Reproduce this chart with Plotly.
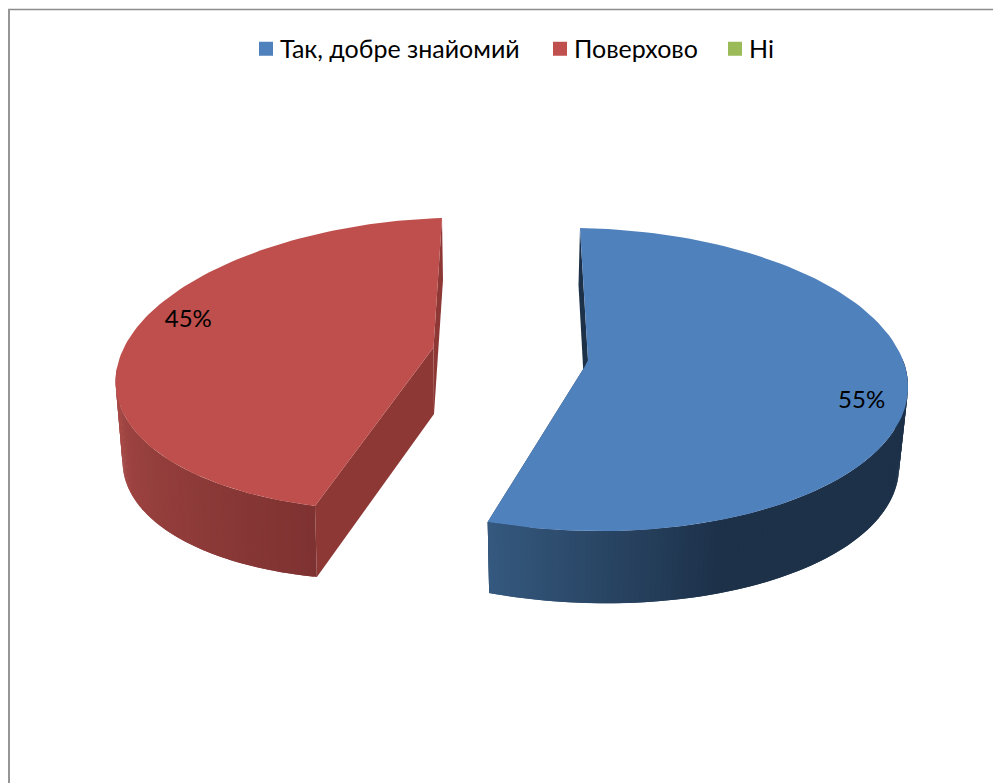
import math
import plotly.graph_objects as go

# --- data ---
categories = ["Так, добре знайомий", "Поверхово", "Ні"]
values = [55, 45, 0]
labels = ["55%", "45%", None]
legend_colors = ["#4F81BD", "#C0504D", "#9BBB59"]

# --- projected pie geometry (pixels of the 1001x783 canvas) ---
TOP = [
    dict(cx=584, cy=379.5, a=324, b=151.5, k=-4, m=5.5),
    dict(cx=426, cy=364, a=310, b=146, k=16, m=-10),
]
BOT = [
    dict(cx=583, cy=456, a=316, b=147, k=-4, m=9),
    dict(cx=427, cy=437, a=304, b=142, k=17, m=-16),
]
APEX_TOP = [(584.5, 367), (433.5, 347.5)]
APEX_NOTCH = [(588, 360), (433.5, 347.5)]
APEX_BOT = [(587, 438), (434, 414)]
BACK_MID = [(578.5, 285), (443, 280)]
LABEL_XY_OFFSET = [(-43, -7), (66, -30)]
FACE = ["#4F81BD", "#BE4F4C"]
WALL_FLAT = ["#1D3149", "#8E3836"]
WALL_A = ["#35597F", "#7E3231"]
WALL_B = ["#1D3149", "#A84A47"]
LEGEND_X = [240, 534, 709]
LEGEND_Y = 48
FONT = "Lato, Carlito, Calibri, sans-serif"


def pt(g, deg):
    t = math.radians(deg)
    return (g["cx"] + g["a"] * math.sin(t) + g["k"] * math.cos(t),
            g["cy"] - g["b"] * math.cos(t) + g["m"] * math.sin(t))


def mix(c1, c2, f):
    f = max(0.0, min(1.0, f))
    v = [round(int(c1[i:i+2], 16) * (1 - f) + int(c2[i:i+2], 16) * f) for i in (1, 3, 5)]
    return "#%02X%02X%02X" % tuple(v)


def poly(xs, ys, color):
    return go.Scatter(x=list(xs) + [xs[0]], y=list(ys) + [ys[0]], mode="lines", fill="toself",
                      fillcolor=color, line=dict(color=color, width=0), showlegend=False,
                      hoverinfo="skip")


fig = go.Figure()
total = sum(values)
start = 0.0
for i, v in enumerate(values):
    span = 360.0 * v / total
    if v == 0:
        continue
    end = start + span
    g, h = TOP[i], BOT[i]
    p0 = pt(g, start if i == 0 else end)
    fig.add_trace(poly([p0[0], BACK_MID[i][0], APEX_BOT[i][0], APEX_NOTCH[i][0]],
                       [p0[1], BACK_MID[i][1], APEX_BOT[i][1], APEX_NOTCH[i][1]], WALL_FLAT[i]))
    cut = end if i == 0 else start
    q0, q1 = pt(g, cut), pt(h, cut)
    fig.add_trace(poly([APEX_TOP[i][0], q0[0], q1[0], APEX_BOT[i][0]],
                       [APEX_TOP[i][1], q0[1], q1[1], APEX_BOT[i][1]], WALL_FLAT[i]))
    # curved outer wall: strips overlap so no seams show
    lo, hi = (80.0, end) if i == 0 else (start, 272.0)
    n = 120
    step = (hi - lo) / n
    for s in range(n):
        t0 = lo + step * s
        t1 = min(hi, t0 + 2 * step)
        a0, a1, b1, b0 = pt(g, t0), pt(g, t1), pt(h, t1), pt(h, t0)
        if i == 0:
            c = mix(WALL_A[0], WALL_B[0], (end - t0) / 43.0)
        else:
            c = mix(WALL_A[1], WALL_B[1], (t0 - start) / (hi - lo))
        fig.add_trace(poly([a0[0], a1[0], b1[0], b0[0]], [a0[1], a1[1], b1[1], b0[1]], c))
    arc = [pt(g, start + span * s / 120) for s in range(121)]
    fig.add_trace(poly([APEX_TOP[i][0], APEX_NOTCH[i][0]] + [p[0] for p in arc],
                       [APEX_TOP[i][1], APEX_NOTCH[i][1]] + [p[1] for p in arc], FACE[i]))
    mid = pt(g, (start + end) / 2)
    fig.add_trace(go.Scatter(x=[mid[0] + LABEL_XY_OFFSET[i][0]], y=[mid[1] + LABEL_XY_OFFSET[i][1]],
                             mode="text", text=[labels[i]], showlegend=False, hoverinfo="skip",
                             textfont=dict(family=FONT, size=24, color="#000000")))
    start = end

for i, name in enumerate(categories):
    lg = "legend" if i == 0 else f"legend{i+1}"
    fig.add_trace(go.Scatter(x=[None], y=[None], mode="markers", name=name, legend=lg,
                             marker=dict(symbol="square", size=14, color=legend_colors[i])))

legend_style = dict(orientation="h", xanchor="left", yanchor="middle", yref="paper", xref="paper",
                    bgcolor="rgba(0,0,0,0)", itemwidth=30,
                    font=dict(family=FONT, size=25, color="#000000"))
layout_legends = {}
for i in range(len(categories)):
    key = "legend" if i == 0 else f"legend{i+1}"
    layout_legends[key] = dict(x=LEGEND_X[i] / 1001, y=1 - LEGEND_Y / 783, **legend_style)

fig.update_layout(
    width=1001, height=783, autosize=False,
    margin=dict(l=0, r=0, t=0, b=0),
    paper_bgcolor="#FFFFFF", plot_bgcolor="#FFFFFF",
    xaxis=dict(range=[0, 1001], visible=False, fixedrange=True),
    yaxis=dict(range=[783, 0], visible=False, fixedrange=True),
    shapes=[
        dict(type="line", x0=8, x1=993, y0=9.5, y1=9.5, line=dict(color="#8C8C8C", width=1.5)),
        dict(type="line", x0=9, x1=9, y0=9, y1=783, line=dict(color="#969696", width=2)),
    ],
    **layout_legends,
)
post = ("document.body.style.margin='0';"
        "document.documentElement.style.overflow='hidden';"
        "document.querySelectorAll('.legendsymbols').forEach(function(g){"
        "g.setAttribute('transform','translate(6,1)');});")
fig.write_html("out.html", config={"displayModeBar": False}, post_script=post)
